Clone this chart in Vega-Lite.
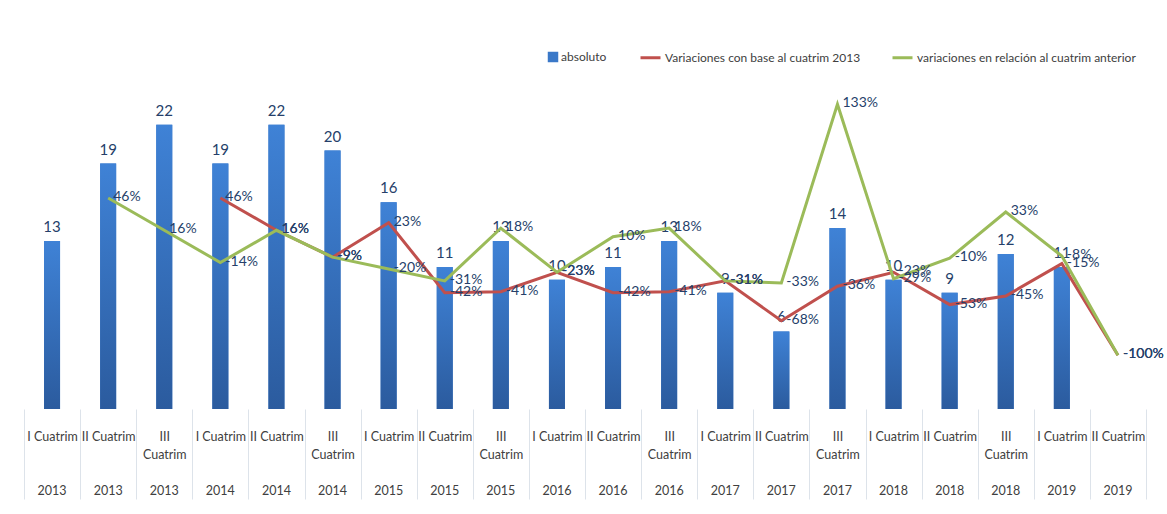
{
  "$schema": "https://vega.github.io/schema/vega-lite/v6.json",
  "width": 1122,
  "height": 323,
  "autosize": {"type": "none"},
  "padding": {"left": 24, "top": 86, "right": 21, "bottom": 105},
  "background": "white",
  "config": {
    "font": "Lato",
    "view": {"stroke": null},
    "locale": {"number": {"decimal": ",", "thousands": ".", "grouping": [3], "currency": ["", " €"], "minus": "-", "percent": "%"}}
  },
  "data": {
    "values": [
      {"periodo": "I Cuatrim 2013", "absoluto": 13, "base": null, "anterior": null},
      {"periodo": "II Cuatrim 2013", "absoluto": 19, "base": null, "anterior": 0.46},
      {"periodo": "III Cuatrim 2013", "absoluto": 22, "base": null, "anterior": 0.16},
      {"periodo": "I Cuatrim 2014", "absoluto": 19, "base": 0.46, "anterior": -0.14},
      {"periodo": "II Cuatrim 2014", "absoluto": 22, "base": 0.16, "anterior": 0.16},
      {"periodo": "III Cuatrim 2014", "absoluto": 20, "base": -0.09, "anterior": -0.09},
      {"periodo": "I Cuatrim 2015", "absoluto": 16, "base": 0.23, "anterior": -0.20},
      {"periodo": "II Cuatrim 2015", "absoluto": 11, "base": -0.42, "anterior": -0.31},
      {"periodo": "III Cuatrim 2015", "absoluto": 13, "base": -0.41, "anterior": 0.18},
      {"periodo": "I Cuatrim 2016", "absoluto": 10, "base": -0.23, "anterior": -0.23},
      {"periodo": "II Cuatrim 2016", "absoluto": 11, "base": -0.42, "anterior": 0.10},
      {"periodo": "III Cuatrim 2016", "absoluto": 13, "base": -0.41, "anterior": 0.18},
      {"periodo": "I Cuatrim 2017", "absoluto": 9, "base": -0.31, "anterior": -0.31},
      {"periodo": "II Cuatrim 2017", "absoluto": 6, "base": -0.68, "anterior": -0.33},
      {"periodo": "III Cuatrim 2017", "absoluto": 14, "base": -0.36, "anterior": 1.33},
      {"periodo": "I Cuatrim 2018", "absoluto": 10, "base": -0.23, "anterior": -0.29},
      {"periodo": "II Cuatrim 2018", "absoluto": 9, "base": -0.53, "anterior": -0.10},
      {"periodo": "III Cuatrim 2018", "absoluto": 12, "base": -0.45, "anterior": 0.33},
      {"periodo": "I Cuatrim 2019", "absoluto": 11, "base": -0.15, "anterior": -0.08},
      {"periodo": "II Cuatrim 2019", "absoluto": 0, "base": -1.0, "anterior": -1.0}
    ]
  },
  "layer": [
    {
      "encoding": {
        "x": {
          "field": "periodo",
          "type": "nominal",
          "sort": null,
          "scale": {"paddingInner": 0, "paddingOuter": 0},
          "axis": {
            "orient": "bottom",
            "title": null,
            "labelAngle": 0,
            "labelOverlap": false,
            "labelBound": false,
            "labelExpr": "!isString(datum.value) ? '' : (split(datum.value,' ')[0]=='III' ? ['III','Cuatrim'] : split(datum.value,' ')[0]+' Cuatrim')",
            "labelAlign": "center",
            "labelBaseline": "top",
            "labelLineHeight": 18,
            "labelFontSize": 12.5,
            "labelColor": "#404040",
            "labelPadding": -69,
            "tickSize": 90,
            "tickBand": "extent",
            "tickColor": "#dde3ea",
            "tickWidth": 1,
            "domain": false
          }
        }
      },
      "layer": [
        {
          "mark": {"type": "bar", "size": 16},
          "encoding": {
            "y": {
              "field": "absoluto",
              "type": "quantitative",
              "scale": {"domain": [0, 25]},
              "axis": {
                "orient": "right",
                "values": [0, 5, 10, 15, 20, 25],
                "title": null,
                "grid": true,
                "gridColor": "#e6e6e6",
                "domain": false,
                "ticks": false,
                "labelFontSize": 9,
                "labelColor": "#7f7f7f",
                "labelPadding": 9
              }
            },
            "fill": {
              "datum": "absoluto",
              "scale": {"range": ["#3a78c8"]},
              "legend": {
                "title": null,
                "orient": "none",
                "legendX": 523,
                "legendY": -35,
                "symbolType": "square",
                "symbolSize": 110,
                "labelFontSize": 12,
                "labelColor": "#404040",
                "labelOffset": 2
              }
            }
          }
        },
        {
          "mark": {
            "type": "bar",
            "size": 16,
            "color": {
              "gradient": "linear",
              "x1": 0, "y1": 0, "x2": 0, "y2": 1,
              "stops": [
                {"offset": 0, "color": "#3f82d6"},
                {"offset": 1, "color": "#2b5b9e"}
              ]
            }
          },
          "encoding": {
            "y": {"field": "absoluto", "type": "quantitative", "scale": {"domain": [0, 25]}, "axis": null}
          }
        },
        {
          "transform": [{"filter": "datum.absoluto > 0"}],
          "mark": {"type": "text", "baseline": "bottom", "dy": -6, "fontSize": 15, "color": "#263f6a"},
          "encoding": {
            "y": {"field": "absoluto", "type": "quantitative", "scale": {"domain": [0, 25]}, "axis": null},
            "text": {"field": "absoluto", "type": "quantitative"}
          }
        }
      ]
    },
    {
      "transform": [{"fold": ["base", "anterior"], "as": ["serie", "valor"]}],
      "encoding": {
        "x": {
          "field": "periodo",
          "type": "nominal",
          "sort": null,
          "scale": {"paddingInner": 0, "paddingOuter": 0},
          "axis": {
            "orient": "bottom",
            "title": null,
            "labelAngle": 0,
            "labelOverlap": false,
            "labelBound": false,
            "labelExpr": "!isString(datum.value) ? '' : split(datum.value,' ')[2]",
            "labelAlign": "center",
            "labelBaseline": "top",
            "labelFontSize": 12.5,
            "labelColor": "#404040",
            "labelPadding": 75,
            "ticks": false,
            "tickSize": 0,
            "domain": false
          }
        }
      },
      "layer": [
        {
          "mark": {"type": "line", "strokeWidth": 3},
          "encoding": {
            "y": {
              "field": "valor",
              "type": "quantitative",
              "scale": {"domain": [-1.5, 1.5]},
              "axis": {
                "orient": "left",
                "values": [-1.5, -1, -0.5, 0, 0.5, 1, 1.5],
                "format": "~g",
                "title": null,
                "grid": false,
                "domain": false,
                "ticks": false,
                "labelFontSize": 9,
                "labelColor": "#7f7f7f",
                "labelAlign": "center",
                "labelPadding": 12
              }
            },
            "stroke": {
              "field": "serie",
              "type": "nominal",
              "scale": {"domain": ["base", "anterior"], "range": ["#c0504d", "#9bbb59"]},
              "legend": {
                "title": null,
                "orient": "none",
                "direction": "horizontal",
                "legendX": 615,
                "legendY": -40,
                "symbolType": "stroke",
                "symbolSize": 400,
                "symbolStrokeWidth": 3,
                "columnPadding": 25,
                "labelFontSize": 12,
                "labelColor": "#404040",
                "labelOffset": 3,
                "labelLimit": 300,
                "labelExpr": "datum.label == 'base' ? 'Variaciones con base al cuatrim 2013' : 'variaciones en relación al cuatrim anterior'"
              }
            }
          }
        },
        {
          "mark": {"type": "text", "align": "left", "baseline": "middle", "dx": 5, "dy": -1, "fontSize": 14, "color": "#263f6a"},
          "encoding": {
            "y": {"field": "valor", "type": "quantitative", "scale": {"domain": [-1.5, 1.5]}, "axis": null},
            "text": {"field": "valor", "type": "quantitative", "format": ".0%"}
          }
        }
      ]
    }
  ],
  "resolve": {"scale": {"y": "independent"}, "axis": {"x": "independent"}}
}
